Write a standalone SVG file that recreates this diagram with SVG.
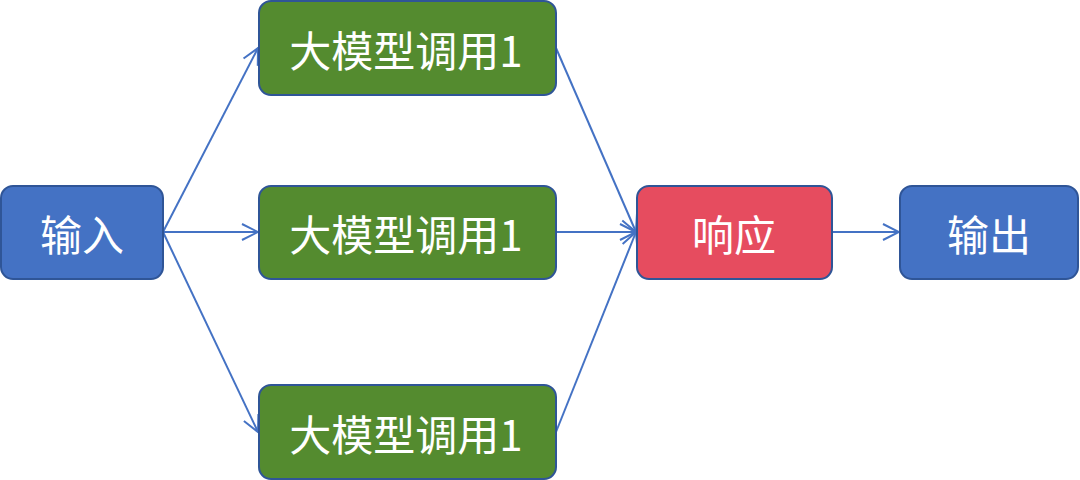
<svg xmlns="http://www.w3.org/2000/svg" width="1080" height="480" viewBox="0 0 1080 480">
<defs>
<style>
.n rect{stroke:#2F5597;stroke-width:2}
.blue rect{fill:#4472C4}
.green rect{fill:#548B2F}
.red rect{fill:#E64C5F}
.n text{fill:#fff;font-family:"Noto Sans CJK SC","Noto Sans",sans-serif;font-size:42px;text-anchor:middle;dominant-baseline:central}
.c path{fill:none;stroke:#4472C4;stroke-width:2}
</style>
<marker id="a" viewBox="0 0 20 20" refX="18" refY="10" markerWidth="20" markerHeight="20" markerUnits="userSpaceOnUse" orient="auto">
<path d="M2,2 L18,10 L2,18" fill="none" stroke="#4472C4" stroke-width="2"/>
</marker>
</defs>
<rect width="1080" height="480" fill="#fff"/>
<g class="c">
<path d="M163,232 L258,48" marker-end="url(#a)"/>
<path d="M163,232 L258,232" marker-end="url(#a)"/>
<path d="M163,232 L258,432" marker-end="url(#a)"/>
<path d="M556,48 L636,232" marker-end="url(#a)"/>
<path d="M556,232 L636,232" marker-end="url(#a)"/>
<path d="M556,432 L636,232" marker-end="url(#a)"/>
<path d="M832,232 L899,232" marker-end="url(#a)"/>
</g>
<g id="input" class="n blue"><rect x="1" y="186" width="162" height="93" rx="12"/><text x="82" y="232">输入</text></g>
<g id="llm1" class="n green"><rect x="259" y="1" width="297" height="94" rx="12"/><text x="406" y="48">大模型调用1</text></g>
<g id="llm2" class="n green"><rect x="259" y="186" width="297" height="93" rx="12"/><text x="406" y="232">大模型调用1</text></g>
<g id="llm3" class="n green"><rect x="259" y="385" width="297" height="94" rx="12"/><text x="406" y="432">大模型调用1</text></g>
<g id="resp" class="n red"><rect x="637" y="186" width="195" height="93" rx="12"/><text x="734" y="232">响应</text></g>
<g id="output" class="n blue"><rect x="900" y="186" width="178" height="93" rx="12"/><text x="989" y="232">输出</text></g>
</svg>
